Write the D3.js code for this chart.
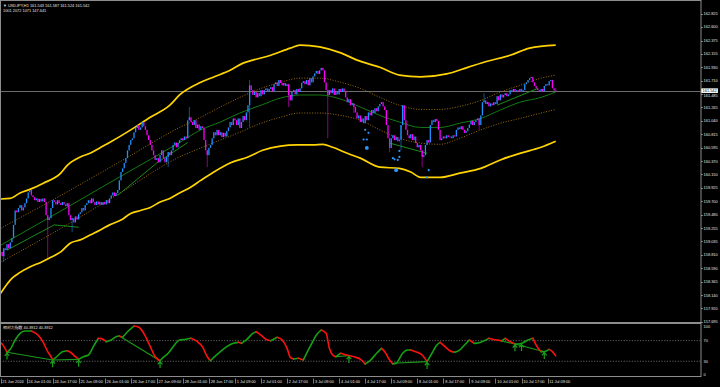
<!DOCTYPE html>
<html>
<head>
<meta charset="utf-8">
<script src="https://cdnjs.cloudflare.com/ajax/libs/d3/7.8.5/d3.min.js"></script>
<style>
html, body { margin: 0; padding: 0; background: #000; }
svg { display: block; }
text { font-family: "Liberation Sans", Arial, "Noto Sans CJK JP", sans-serif; fill: #e4e4e4; }
</style>
</head>
<body>
<div id="chart"></div>
<script>
var W = 720,
	H = 387,
	axisX = 701,
	mainBottom = 322.5,
	subTop = 323.5,
	subBottom = 376.5,
	fs = 3.9;

// ---- data ----
var symbolLine = 'USDJPY,H1  161.543 161.587 161.524 161.542',
	infoLine = '1001 2072 1071 147.641',
	subTitle = '相対力指数 40.3912 40.3912';

var priceTicks = [162.825, 162.600, 162.375, 162.155, 161.930, 161.710, 161.485, 161.265, 161.040, 160.815, 160.595, 160.370,
	160.150, 159.925, 159.700, 159.480, 159.255, 159.035, 158.810, 158.590, 158.365, 158.140, 157.920, 157.695];

var timeLabels = ['21 Jun 2024', '24 Jun 01:00', '24 Jun 17:00', '25 Jun 09:00', '26 Jun 01:00', '26 Jun 17:00', '27 Jun 09:00',
	'28 Jun 01:00', '28 Jun 17:00', '1 Jul 09:00', '2 Jul 01:00', '2 Jul 17:00', '3 Jul 09:00', '4 Jul 01:00', '4 Jul 17:00',
	'5 Jul 09:00', '8 Jul 01:00', '8 Jul 17:00', '9 Jul 09:00', '10 Jul 01:00', '10 Jul 17:00', '11 Jul 09:00'];
var barsPerLabel = 16;

var firstOpen = 158.82;
var closes = [
	158.86,158.79,158.92,158.89,158.99,158.92,159.02,159.09,
	159.31,159.55,159.52,159.59,159.64,159.55,159.60,159.67,
	159.75,159.85,159.89,159.80,159.77,159.72,159.75,159.69,159.74,159.70,159.75,159.69,
	159.47,159.39,159.42,159.59,159.72,159.69,
	159.65,159.72,159.67,159.64,159.69,159.65,159.62,159.67,
	159.47,159.39,159.42,159.35,159.45,159.40,159.49,
	159.52,159.59,159.55,159.64,159.67,
	159.72,159.67,159.75,159.69,159.64,159.70,159.65,159.69,
	159.64,159.69,159.65,159.72,159.67,159.75,
	159.80,159.85,159.79,159.84,159.89,
	160.05,160.19,160.25,160.34,160.42,160.55,160.64,160.72,
	160.75,160.85,160.92,160.97,160.89,160.93,
	161.02,160.95,160.89,160.80,160.72,160.64,
	160.55,160.47,160.39,160.42,160.35,
	160.47,160.55,160.42,160.35,160.44,160.52,160.47,160.55,
	160.64,160.68,160.60,160.67,160.72,160.75,160.72,160.78,160.75,
	161.05,161.10,
	161.02,160.97,161.05,160.92,160.98,160.89,160.95,160.92,
	160.72,160.55,160.47,160.59,160.64,
	160.75,160.85,160.80,160.89,160.80,160.85,160.77,160.84,160.78,160.87,
	160.93,161.02,160.97,161.08,161.05,160.97,161.08,160.92,161.02,161.12,161.05,
	161.18,161.30,161.63,
	161.55,161.47,161.52,161.43,161.50,161.45,161.55,161.48,
	161.55,161.58,161.52,161.57,161.60,161.53,
	161.65,161.68,161.62,161.72,161.67,161.63,161.67,161.62,161.65,
	161.47,161.38,161.52,161.55,161.48,161.57,161.52,161.58,
	161.67,161.70,161.65,161.72,161.63,161.75,161.68,161.78,
	161.83,161.87,161.82,161.88,161.92,161.88,
	161.68,161.55,161.47,
	161.55,161.50,161.58,161.47,161.53,161.48,161.57,161.52,161.58,161.53,
	161.43,161.35,161.40,161.30,161.33,161.27,
	161.18,161.08,161.13,161.02,161.08,161.00,161.12,161.05,
	161.18,161.13,161.22,161.17,161.25,161.20,161.28,161.32,161.35,161.28,161.22,
	160.97,160.75,160.59,160.75,160.80,160.72,160.77,160.70,160.73,
	160.97,161.30,161.05,160.89,160.80,
	160.75,160.82,160.72,160.78,160.67,160.60,160.64,160.55,
	160.44,160.47,160.64,160.72,160.68,
	160.97,161.05,161.02,161.07,161.04,160.89,160.72,160.75,
	160.78,160.75,160.80,160.77,160.78,160.75,160.80,160.78,
	160.89,160.93,160.90,160.95,160.89,160.84,160.87,160.92,
	160.98,161.04,160.97,161.02,161.05,161.08,160.97,161.13,
	161.35,161.38,161.32,161.35,161.28,161.33,161.30,161.35,161.32,
	161.45,161.38,161.48,161.43,161.47,161.50,161.45,161.48,
	161.55,161.52,161.57,161.53,161.55,161.53,161.57,161.52,161.55,
	161.65,161.68,161.72,161.75,161.77,161.68,161.62,161.58,
	161.55,161.52,161.57,161.53,161.62,161.65,161.63,161.70,
	161.72,161.58,161.543,161.542
];

// long shadows that stick out of the bodies
var wicks = [
	{bar: 2, low: 158.69}, {bar: 29, low: 158.76}, {bar: 44, low: 159.19}, {bar: 103, low: 160.27},
	{bar: 116, high: 161.27}, {bar: 127, low: 160.27}, {bar: 153, high: 161.72, low: 160.93},
	{bar: 177, low: 161.27}, {bar: 201, low: 160.75}, {bar: 217, low: 161.17}, {bar: 239, low: 160.52},
	{bar: 246, low: 160.55}, {bar: 259, low: 160.27}, {bar: 294, low: 160.89}, {bar: 297, high: 161.50},
	{bar: 341, high: 161.587, low: 161.524}
];

// envelope bands
var bandBars = [0,37,74,110,123,135,147,160,172,184,196,209,221,233,245,258,270,282,295,307,319,332,341];
var upperDotted = [159.25,159.80,160.37,160.93,161.10,161.27,161.43,161.58,161.68,161.75,161.75,161.68,161.58,161.43,161.30,161.23,161.23,161.28,161.38,161.52,161.63,161.75,161.80];
var lowerDotted = [158.69,159.25,159.85,160.44,160.59,160.72,160.85,161.00,161.10,161.17,161.17,161.13,161.05,160.89,160.75,160.67,160.65,160.75,160.89,161.00,161.08,161.17,161.23];
var midLine = [158.97,159.54,160.12,160.68,160.89,161.02,161.17,161.30,161.42,161.47,161.47,161.40,161.27,161.13,161.02,160.93,160.93,161.00,161.08,161.22,161.35,161.43,161.52];

var upperBandBars = [0,6,12,18,26,37,41,49,55,61,67,80,92,104,110,123,131,141,149,155,166,178,184,196,209,219,233,245,258,274,287,299,313,325,341];
var upperBand = [159.74,159.75,159.84,159.90,160.00,160.17,160.30,160.44,160.50,160.59,160.68,160.89,161.10,161.30,161.47,161.68,161.77,161.88,162.00,162.05,
	162.13,162.25,162.30,162.27,162.17,162.05,161.93,161.80,161.77,161.82,161.93,162.03,162.13,162.25,162.30];
var lowerBandBars = [0,7,12,18,25,31,37,43,49,55,61,67,74,80,86,92,98,104,110,117,123,131,141,152,161,172,182,192,198,204,213,221,233,245,252,258,270,282,295,307,319,332,341];
var lowerBand = [158.17,158.42,158.52,158.61,158.69,158.77,158.86,159.01,159.06,159.14,159.22,159.31,159.39,159.50,159.55,159.60,159.69,159.75,159.84,159.94,
	160.05,160.19,160.34,160.44,160.55,160.62,160.64,160.64,160.65,160.60,160.50,160.42,160.27,160.25,160.19,160.10,160.10,160.17,160.25,160.39,160.50,160.60,160.70];

// green trend segments [bar1, price1, bar2, price2]
var trendLines = [[4,158.89,33,159.31],[33,159.31,48,159.27],[72,159.80,96,160.34],[96,160.34,115,160.68],[239,160.67,262,160.50],[305,161.30,330,161.58]];

// blue signal dots
var dotBars = [224,226,223,225,225,241,242,244,245,243,245,263,262];
var dotPrices = [160.89,160.84,160.73,160.73,160.59,160.42,160.40,160.39,160.44,160.22,160.54,160.22,160.10];
var bigDots = [4, 9];

// oscillator (sub window)
var rsiBars = [0,1,4,6,9,12,15,19,23,26,29,31,32,35,38,41,43,46,48,51,54,57,60,62,65,68,71,73,75,78,82,85,88,92,95,98,100,103,106,110,114,117,121,124,127,129,
	131,135,139,143,146,148,151,155,157,160,163,166,170,173,176,178,180,183,186,188,191,194,197,200,202,204,206,209,214,217,221,224,227,231,234,236,239,241,243,
	247,250,252,255,259,262,265,268,270,273,276,279,282,285,288,291,294,297,300,302,305,308,310,313,316,318,321,324,327,329,332,334,337,339,341];
var rsiVals = [66,63.5,47.4,53.1,71.3,84.2,88.7,88.7,80.9,68,48.6,38.8,32.4,40.2,48.6,50.5,47.4,38.8,33.7,38.8,42.1,58.3,74.5,74,68,71.3,77.6,79,76.5,87.4,98.4,95.9,
	84.2,58.3,38.8,31.1,37.6,45.5,58.3,71.3,72.6,74.5,68,58.3,38.8,31.1,
	37.6,48.6,58.3,64.8,66.7,64.8,71.3,84.2,87.4,80.9,72.6,69.9,76.5,71.3,55.1,37.6,34.4,35.7,32.4,45.5,63.5,80.9,90.7,84.2,55.1,42.1,38.8,45.5,41,38.8,34,24.7,
	31.1,45.5,55.1,48.6,32.4,24.7,26,45.5,51.8,51.8,48.6,42.1,29.2,45.5,61.5,66.7,58.3,50.5,47.4,51.8,61.5,71.3,64.8,66,69.9,74.5,72.6,71.3,69.9,74.5,68,63.5,
	63.5,66,71.3,74.5,61.5,48.6,48.6,53,48.6,40.39];
var rsiLines = [[4,47.4,32,32.4],[32,32.4,48,33.7],[73,79,98,31.1],[206,38.8,214,41],[241,26,262,29.2],[305,71.3,316,63.5],[316,63.5,334,48.6]];
var arrowBars = [4,32,48,98,214,262,316,320,334];
var arrowVals = [47.4,32.4,33.7,31.1,41,29.2,63.5,64,48.6];
var rsiLevels = [70, 30];
var rsiAxis = [100, 70, 30, 0];

// ---- scales ----
var xScale = d3.scaleLinear().domain([0, barsPerLabel]).range([0.5, 26.55]),
	yScale = d3.scaleLinear().domain([157.695, 162.825]).range([322, 13.5]),
	rScale = d3.scaleLinear().domain([0, 100]).range([376.7, 325.2]);

var svg = d3.select('#chart').append('svg')
	.attr('width', W)
	.attr('height', H);

svg.append('rect').attr('width', W).attr('height', H).attr('fill', '#000');

var defs = svg.append('defs');
defs.append('clipPath').attr('id', 'clipMain')
	.append('rect').attr('x', 1).attr('y', 1).attr('width', axisX - 1).attr('height', mainBottom - 1);
defs.append('clipPath').attr('id', 'clipSub')
	.append('rect').attr('x', 1).attr('y', subTop + 0.5).attr('width', axisX - 1).attr('height', subBottom - subTop - 1);

var main = svg.append('g').attr('clip-path', 'url(#clipMain)');
var sub = svg.append('g').attr('clip-path', 'url(#clipSub)');

function keyLine(bars, vals, scale) {
	return d3.line()
		.curve(d3.curveMonotoneX)
		.x(function(d) { return xScale(d); })
		.y(function(d, i) { return scale(vals[i]); })(bars);
}

// current price line
var lastPrice = closes[closes.length - 1];
main.append('line')
	.attr('x1', 0).attr('x2', axisX)
	.attr('y1', Math.round(yScale(lastPrice)) + 0.5)
	.attr('y2', Math.round(yScale(lastPrice)) + 0.5)
	.attr('stroke', '#6c6c6c')
	.attr('stroke-width', 1);

// dotted inner bands
[upperDotted, lowerDotted].forEach(function(vals) {
	main.append('path')
		.attr('d', keyLine(bandBars, vals, yScale))
		.attr('fill', 'none')
		.attr('stroke', '#b07c10')
		.attr('stroke-width', 0.9)
		.attr('stroke-dasharray', '1,1.6');
});

// middle line
main.append('path')
	.attr('d', keyLine(bandBars, midLine, yScale))
	.attr('fill', 'none')
	.attr('stroke', '#137a13')
	.attr('stroke-width', 1);

// outer bands
main.append('path')
	.attr('d', keyLine(upperBandBars, upperBand, yScale))
	.attr('fill', 'none')
	.attr('stroke', '#ffd400')
	.attr('stroke-width', 1.7);
main.append('path')
	.attr('d', keyLine(lowerBandBars, lowerBand, yScale))
	.attr('fill', 'none')
	.attr('stroke', '#ffd400')
	.attr('stroke-width', 1.7);

// trend segments
main.selectAll('.trend')
	.data(trendLines)
	.enter().append('line')
	.attr('class', 'trend')
	.attr('x1', function(d) { return xScale(d[0]); })
	.attr('y1', function(d) { return yScale(d[1]); })
	.attr('x2', function(d) { return xScale(d[2]); })
	.attr('y2', function(d) { return yScale(d[3]); })
	.attr('stroke', '#1c8c1c')
	.attr('stroke-width', 1);

// candles
var candles = closes.map(function(c, i) {
	var o = i ? closes[i - 1] : firstOpen;
	return {i: i, o: o, c: c, h: Math.max(o, c), l: Math.min(o, c)};
});
wicks.forEach(function(w) {
	var d = candles[w.bar];
	if (!d) return;
	if (w.high != null) d.h = w.high;
	if (w.low != null) d.l = w.low;
});

function candleColor(d) { return d.c >= d.o ? '#1e90ff' : '#ff00ff'; }

main.selectAll('.wick')
	.data(candles.filter(function(d) { return d.h > Math.max(d.o, d.c) || d.l < Math.min(d.o, d.c); }))
	.enter().append('line')
	.attr('class', 'wick')
	.attr('x1', function(d) { return xScale(d.i); })
	.attr('x2', function(d) { return xScale(d.i); })
	.attr('y1', function(d) { return yScale(d.h); })
	.attr('y2', function(d) { return yScale(d.l); })
	.attr('stroke', candleColor)
	.attr('stroke-opacity', 0.6)
	.attr('stroke-width', 0.9);

main.selectAll('.body')
	.data(candles)
	.enter().append('rect')
	.attr('class', 'body')
	.attr('x', function(d) { return xScale(d.i) - 0.65; })
	.attr('width', 1.3)
	.attr('y', function(d) { return yScale(Math.max(d.o, d.c)); })
	.attr('height', function(d) { return Math.max(0.8, Math.abs(yScale(d.o) - yScale(d.c))); })
	.attr('fill', candleColor);

// signal dots
main.selectAll('.dot')
	.data(dotBars)
	.enter().append('circle')
	.attr('class', 'dot')
	.attr('cx', function(d) { return xScale(d); })
	.attr('cy', function(d, i) { return yScale(dotPrices[i]); })
	.attr('r', function(d, i) { return bigDots.indexOf(i) >= 0 ? 1.9 : 1.1; })
	.attr('fill', '#2f95ff');

// ---- sub window ----
rsiLevels.forEach(function(v) {
	sub.append('line')
		.attr('x1', 0).attr('x2', axisX)
		.attr('y1', rScale(v)).attr('y2', rScale(v))
		.attr('stroke', '#8a8a8a')
		.attr('stroke-width', 0.7)
		.attr('stroke-dasharray', '1.2,1.5');
});

var rsi = rsiBars.map(function(b, i) { return {b: b, v: rsiVals[i]}; });
var runs = [], cur = null;
for (var i = 1; i < rsi.length; i++) {
	var up = rsi[i].v >= rsi[i - 1].v;
	if (!cur || cur.up !== up) {
		cur = {up: up, pts: [rsi[i - 1]]};
		runs.push(cur);
	}
	cur.pts.push(rsi[i]);
}
var rsiLine = d3.line()
	.curve(d3.curveMonotoneX)
	.x(function(d) { return xScale(d.b); })
	.y(function(d) { return rScale(d.v); });

sub.selectAll('.div-line')
	.data(rsiLines)
	.enter().append('line')
	.attr('class', 'div-line')
	.attr('x1', function(d) { return xScale(d[0]); })
	.attr('y1', function(d) { return rScale(d[1]); })
	.attr('x2', function(d) { return xScale(d[2]); })
	.attr('y2', function(d) { return rScale(d[3]); })
	.attr('stroke', '#1a9a1a')
	.attr('stroke-width', 1.1);

sub.selectAll('.rsi-run')
	.data(runs)
	.enter().append('path')
	.attr('class', 'rsi-run')
	.attr('d', function(d) { return rsiLine(d.pts); })
	.attr('fill', 'none')
	.attr('stroke', function(d) { return d.up ? '#15a015' : '#ff1010'; })
	.attr('stroke-width', 1.6)
	.attr('stroke-linecap', 'round');

sub.selectAll('.arrow')
	.data(arrowBars)
	.enter().append('path')
	.attr('class', 'arrow')
	.attr('d', function(d, i) {
		var x = xScale(d), y = rScale(arrowVals[i]) + 0.8;
		return 'M' + x + ',' + y + 'V' + (y + 6.5) + 'M' + (x - 2.3) + ',' + (y + 2.8) + 'L' + x + ',' + y + 'L' + (x + 2.3) + ',' + (y + 2.8);
	})
	.attr('fill', 'none')
	.attr('stroke', '#1aa01a')
	.attr('stroke-width', 1.2);

// ---- frames ----
svg.append('rect')
	.attr('x', 0.5).attr('y', 0.5)
	.attr('width', axisX - 0.5).attr('height', mainBottom - 0.5)
	.attr('fill', 'none').attr('stroke', '#8c8c8c').attr('stroke-width', 1);
svg.append('rect')
	.attr('x', 0.5).attr('y', subTop)
	.attr('width', axisX - 0.5).attr('height', subBottom - subTop)
	.attr('fill', 'none').attr('stroke', '#8c8c8c').attr('stroke-width', 1);

// ---- price axis ----
var lastY = yScale(lastPrice);
function labelY(d) {
	// keep tick labels clear of the current-price box
	var y = yScale(d);
	if (Math.abs(y - lastY) < 4.6) y = y > lastY ? lastY + 4.6 : lastY - 4.6;
	return y;
}

var pAxis = svg.append('g');
pAxis.selectAll('line')
	.data(priceTicks)
	.enter().append('line')
	.attr('x1', axisX).attr('x2', axisX + 2)
	.attr('y1', function(d) { return Math.round(yScale(d)) + 0.5; })
	.attr('y2', function(d) { return Math.round(yScale(d)) + 0.5; })
	.attr('stroke', '#9a9a9a').attr('stroke-width', 0.8);
pAxis.selectAll('text')
	.data(priceTicks)
	.enter().append('text')
	.attr('x', axisX + 2.6)
	.attr('y', labelY)
	.attr('dy', '0.35em')
	.style('font-size', fs + 'px')
	.text(d3.format('.3f'));

var pBox = svg.append('g');
pBox.append('rect')
	.attr('x', axisX + 0.3).attr('y', lastY - 2.3)
	.attr('width', 16.6).attr('height', 4.6)
	.attr('fill', '#ffffff');
pBox.append('text')
	.attr('x', axisX + 1.6).attr('y', lastY)
	.attr('dy', '0.35em')
	.style('font-size', fs + 'px')
	.style('fill', '#000')
	.text(d3.format('.3f')(lastPrice));

// sub axis
svg.selectAll('.r-tick')
	.data(rsiAxis)
	.enter().append('text')
	.attr('class', 'r-tick')
	.attr('x', axisX + 2.6)
	.attr('y', function(d) { return Math.min(374.5, Math.max(326.8, rScale(d))); })
	.attr('dy', '0.35em')
	.style('font-size', fs + 'px')
	.text(function(d) { return d; });

// ---- time axis ----
var tAxis = svg.append('g');
tAxis.selectAll('line')
	.data(timeLabels)
	.enter().append('line')
	.attr('x1', function(d, i) { return Math.round(xScale(i * barsPerLabel)) + 0.5; })
	.attr('x2', function(d, i) { return Math.round(xScale(i * barsPerLabel)) + 0.5; })
	.attr('y1', 378.5).attr('y2', 383.5)
	.attr('stroke', '#9a9a9a').attr('stroke-width', 0.8);
tAxis.selectAll('text')
	.data(timeLabels)
	.enter().append('text')
	.attr('x', function(d, i) { return xScale(i * barsPerLabel) + 1.8; })
	.attr('y', 381.2)
	.attr('dy', '0.35em')
	.style('font-size', fs + 'px')
	.text(function(d) { return d; });

// ---- header texts ----
svg.append('text')
	.attr('x', 3).attr('y', 5.2).attr('dy', '0.35em')
	.style('font-size', fs + 'px')
	.text('\u25BC ' + symbolLine);
svg.append('text')
	.attr('x', 3).attr('y', 10.2).attr('dy', '0.35em')
	.style('font-size', fs + 'px')
	.text(infoLine);
svg.append('text')
	.attr('x', 3).attr('y', 327.4).attr('dy', '0.35em')
	.style('font-size', fs + 'px')
	.text(subTitle);
</script>
</body>
</html>
